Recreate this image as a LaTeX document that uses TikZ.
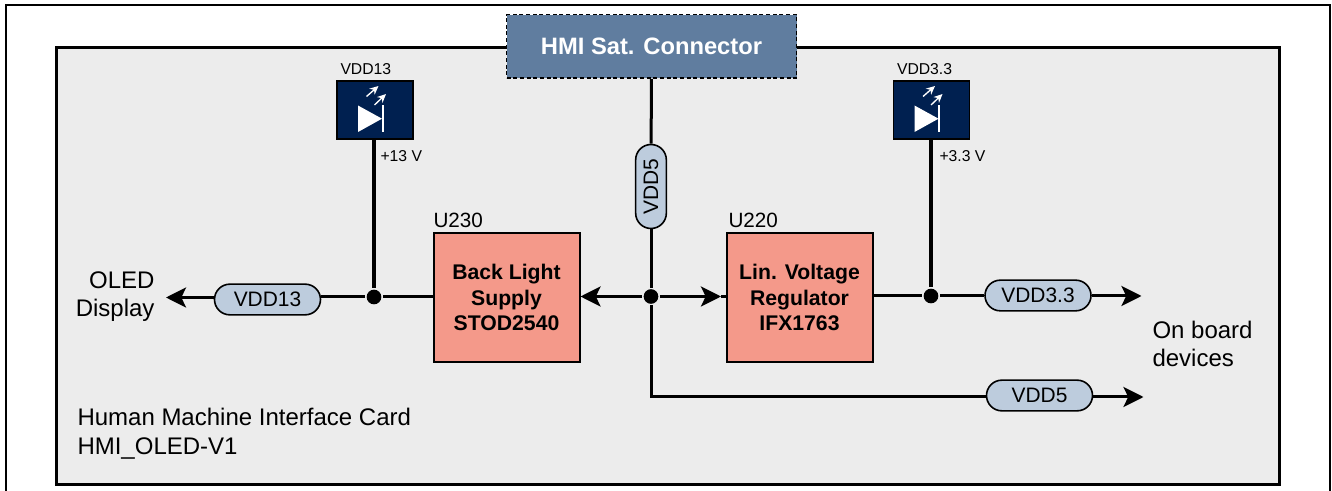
\documentclass[tikz,border=0pt]{standalone}
\usepackage{fontspec}
\setmainfont{Liberation Sans}
\usetikzlibrary{arrows.meta,shapes.misc}
\definecolor{cardgray}{HTML}{ECECEC}
\definecolor{ledblue}{HTML}{002050}
\definecolor{railblue}{HTML}{BDCCDD}
\definecolor{blockred}{HTML}{F4998A}
\definecolor{connblue}{HTML}{607D9F}

\begin{document}
\begin{tikzpicture}[x=0.75pt,y=-0.75pt,line width=2.25pt,>={Stealth[length=15pt,width=15pt,inset=3.5pt]}]
    \tikzstyle{block}=[draw,line width=1.5pt,fill=blockred,minimum width=109.5pt,minimum height=96.5pt,inner sep=0pt,align=center,font=\fontsize{15.9}{19}\selectfont\bfseries]
    \tikzstyle{rail}=[draw,line width=1.2pt,fill=railblue,rounded rectangle,minimum width=79.5pt,minimum height=23pt,inner sep=0pt,font=\fontsize{15.7}{18}\selectfont]
    \tikzstyle{led}=[draw,line width=1.2pt,fill=ledblue,minimum width=57pt,minimum height=43.5pt,inner sep=0pt]
    \tikzstyle{junction}=[circle,fill=black,minimum size=11pt,inner sep=0pt]
    \tikzstyle{annot}=[inner sep=0pt,font=\fontsize{18}{21.5}\selectfont]
    \tikzstyle{blockname}=[inner sep=0pt,font=\fontsize{15.5}{18}\selectfont]
    \tikzstyle{small annot}=[inner sep=0pt,font=\fontsize{11.8}{14}\selectfont]
    \tikzstyle{stem}=[line width=2.6pt]

    \useasboundingbox (0,0) rectangle (1332,491);

    % Draw the outer frame and the card
    \draw[line width=1.6pt] (6,491) -- (6,5) -- (1330,5) -- (1330,491);
    \draw[fill=cardgray] (56.5,47.5) rectangle (1279.5,484.5);

    % Draw the connector and the two supply blocks
    \node[draw,densely dashed,line width=1pt,fill=connblue,text=white,minimum width=217.5pt,minimum height=47.5pt,inner sep=0pt,font=\fontsize{17.8}{20}\selectfont\bfseries] (conn) at (651.5,46.5) {HMI Sat. Connector};
    \node[block] (U230) at (506.5,297.5) {Back Light\\Supply\\STOD2540};
    \node[block] (U220) at (799.5,297.5) {Lin. Voltage\\Regulator\\IFX1763};
    \node[blockname,anchor=south west] (U230-label) at (432,229) {U230};
    \node[blockname,anchor=south west] (U220-label) at (727,229) {U220};

    % Draw the LED boxes
    \foreach \name / \rail / \x / \vx / \volt in {a/VDD13/375/379/+13 V,b/VDD3.3/931.5/938/+3.3 V}
    {
        \node[led] (L-\name) at (\x,110) {};
        \node[small annot,anchor=south west] (T-\name) at (\x-36,76.5) {\rail};
        \node[small annot,anchor=west] (V-\name) at (\vx,156.5) {\volt};
        \begin{scope}[shift={(\x,110)},white]
            \fill (-17,-4.5) -- (-17,22) -- (7,8.7) -- cycle;
            \fill (6.8,-4.5) rectangle (8.8,22);
            \draw[line width=1pt,-{Stealth[length=6.5pt,width=6pt]}] (-8.5,-13.5) -- (3.5,-24);
            \draw[line width=1pt,-{Stealth[length=6.5pt,width=6pt]}] (-0.5,-5) -- (11,-16);
        \end{scope}
    }

    % Draw the rail labels
    \node[rail] (R-a) at (267.5,299.5) {VDD13};
    \node[rail] (R-b) at (1038,295.5) {VDD3.3};
    \node[rail] (R-c) at (1039.5,395.5) {VDD5};
    \node[rail,rotate=90,minimum width=63pt] (R-v) at (651,186.5) {VDD5};

    % Draw the junctions and the free ends
    \node[junction] (J-a) at (374,297) {};
    \node[junction] (J-c) at (651,296.5) {};
    \node[junction] (J-b) at (931,296) {};
    \coordinate (bend) at (651,397);
    \coordinate (to-oled) at (166,297.5);
    \coordinate (to-b) at (1141.5,296);
    \coordinate (to-c) at (1143.5,397);
    \coordinate (to-u220) at (721,296.5);

    % Connect the rails
    \draw (conn) -- (R-v);
    \draw (R-v) -- (J-c);
    \draw (J-c) -- (bend) -- (R-c.west |- bend);
    \draw[->] (R-c.east |- to-c) -- (to-c);
    \draw[->] (J-c) -- (U230.east |- J-c);
    \draw[->] (J-c) -- (to-u220);
    \draw (to-u220) -- (U220.west |- J-c);
    \draw (U230.west |- J-a) -- (J-a);
    \draw (J-a) -- (R-a.east |- J-a);
    \draw[->] (R-a.west |- to-oled) -- (to-oled);
    \draw[stem] (L-a.south -| J-a) -- (J-a);
    \draw (U220.east |- J-b) -- (J-b);
    \draw (J-b) -- (R-b.west |- J-b);
    \draw[->] (R-b.east |- J-b) -- (to-b);
    \draw[stem] (L-b.south -| J-b) -- (J-b);

    % Annotate the card
    \node[annot,align=right,anchor=east] (oled) at (156,296.5) {OLED\\Display};
    \node[annot,align=left,anchor=west] (board) at (1151,344) {On board\\devices};
    \node[annot,align=left,anchor=west] (card) at (76,434) {Human Machine Interface Card\\HMI\_OLED-V1};
\end{tikzpicture}
\end{document}
